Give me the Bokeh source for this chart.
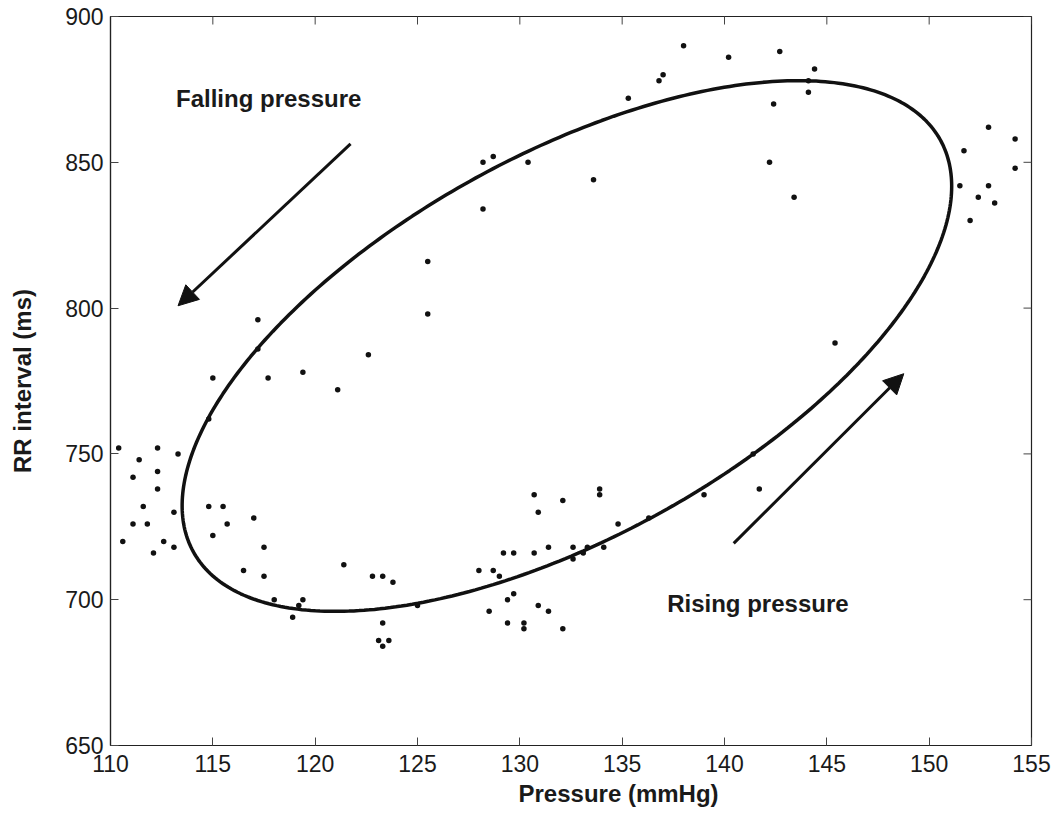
import numpy as np
from bokeh.plotting import figure
from bokeh.models import LinearAxis, Range1d, Arrow, NormalHead, FixedTicker, Label, Title
from bokeh.embed import file_html
from bokeh.resources import INLINE

# ---- data ----
pressure = [
    117.2, 117.2, 115.0, 117.7, 119.4, 122.6, 121.1, 114.8,
    110.4, 112.3, 113.3, 111.4, 112.3, 111.1, 112.3, 111.6,
    114.8, 115.5, 113.1, 111.1, 111.8, 115.7, 117.0, 115.0,
    110.6, 112.6, 113.1, 112.1, 117.5, 121.4, 116.5, 117.5,
    122.8, 123.3, 123.8, 118.0, 119.4, 119.2, 118.9, 123.3,
    123.1, 123.6, 123.3, 125.0,
    130.7, 132.1, 133.9, 133.9, 130.9, 134.8, 136.3,
    129.2, 129.7, 130.7, 131.4, 132.6, 132.6, 133.1, 133.3, 134.1,
    128.0, 128.7, 129.0, 129.7, 129.4, 128.5, 130.9, 131.4,
    129.4, 130.2, 130.2, 132.1,
    128.2, 128.7, 130.4, 133.6, 128.2, 135.3, 136.8, 137.0, 138.0, 140.2,
    125.5, 125.5,
    142.7, 144.4, 144.1, 144.1, 142.4, 142.2, 143.4,
    152.9, 154.2, 151.7, 154.2, 151.5, 152.9, 152.4, 153.2, 152.0, 145.4,
    139.0, 141.7, 141.4,
]
rr_interval = [
    796, 786, 776, 776, 778, 784, 772, 762,
    752, 752, 750, 748, 744, 742, 738, 732,
    732, 732, 730, 726, 726, 726, 728, 722,
    720, 720, 718, 716, 718, 712, 710, 708,
    708, 708, 706, 700, 700, 698, 694, 692,
    686, 686, 684, 698,
    736, 734, 738, 736, 730, 726, 728,
    716, 716, 716, 718, 718, 714, 716, 718, 718,
    710, 710, 708, 702, 700, 696, 698, 696,
    692, 692, 690, 690,
    850, 852, 850, 844, 834, 872, 878, 880, 890, 886,
    816, 798,
    888, 882, 878, 874, 870, 850, 838,
    862, 858, 854, 848, 842, 842, 838, 836, 830, 788,
    736, 738, 750,
]

# fitted loop (ellipse) parameters
loop_center_x = 132.3
loop_center_y = 787.0
loop_amp_x = 18.8
loop_amp_y = 91.0
loop_phase = 0.925

# annotation arrows: (x_start, y_start, x_end, y_end)
falling_arrow = (121.73, 856.3, 113.3, 800.8)
rising_arrow = (140.45, 719.3, 148.76, 777.5)
falling_label = ("Falling pressure", 113.2, 872.0)
rising_label = ("Rising pressure", 137.2, 698.7)
x_title = "Pressure (mmHg)"
y_title = "RR interval (ms)"

x_ticks = [110, 115, 120, 125, 130, 135, 140, 145, 150, 155]
y_ticks = [650, 700, 750, 800, 850, 900]

FONT = "Liberation Sans"
INK = "#1a1a1a"

p = figure(width=1056, height=815, output_backend="svg", toolbar_location=None,
           x_range=Range1d(110, 155), y_range=Range1d(650, 900),
           min_border_left=110, min_border_right=25, min_border_top=16,
           min_border_bottom=70, x_axis_location=None, y_axis_location=None)
p.grid.visible = False
p.outline_line_color = "#222222"
p.outline_line_width = 1.2
p.background_fill_color = "white"
p.border_fill_color = "white"


def make_axis(ticks, label=None):
    ax = LinearAxis(ticker=FixedTicker(ticks=ticks))
    ax.minor_tick_line_color = None
    ax.major_tick_in = 8
    ax.major_tick_out = 0
    ax.major_tick_line_color = "#444444"
    ax.major_tick_line_width = 1
    ax.axis_line_color = "#222222"
    ax.axis_line_width = 1.2
    ax.major_label_text_font = FONT
    ax.major_label_text_font_size = "23px"
    ax.major_label_text_color = INK
    if label:
        ax.axis_label = label
        ax.axis_label_text_font = FONT
        ax.axis_label_text_font_size = "24px"
        ax.axis_label_text_font_style = "bold"
        ax.axis_label_text_color = INK
    return ax


xb = make_axis(x_ticks)
yl = make_axis(y_ticks, y_title)
xb.major_label_standoff = 9
yl.major_label_standoff = 7
yl.axis_label_standoff = 26
p.add_layout(xb, "below")
p.add_layout(yl, "left")

# x-axis title, placed right of centre as in the reference
p.add_layout(Title(text=x_title, align="left", offset=408, standoff=6,
                   text_font=FONT, text_font_size="24px", text_font_style="bold",
                   text_color=INK), "below")

# inward tick marks on the top and right edges of the box
p.scatter(x_ticks, [y_ticks[-1]] * len(x_ticks), marker="dash", angle=np.pi / 2,
          size=16, line_color="#444444", line_width=1)
p.scatter([x_ticks[-1]] * len(y_ticks), y_ticks, marker="dash",
          size=16, line_color="#444444", line_width=1)

# ellipse loop
t = np.linspace(0, 2 * np.pi, 400)
ex = loop_center_x + loop_amp_x * np.cos(t)
ey = loop_center_y + loop_amp_y * np.cos(t - loop_phase)
p.line(ex, ey, line_color="#111111", line_width=3.5)

# data points
p.scatter(pressure, rr_interval, size=5.5, fill_color="#111111", line_color=None)

# arrows
for (x0, y0, x1, y1) in (falling_arrow, rising_arrow):
    p.add_layout(Arrow(x_start=x0, y_start=y0, x_end=x1, y_end=y1,
                       line_color="#111111", line_width=3,
                       end=NormalHead(size=20, fill_color="#111111", line_color="#111111")))

for (txt, lx, ly) in (falling_label, rising_label):
    p.add_layout(Label(x=lx, y=ly, text=txt, text_font=FONT, text_font_size="24px",
                       text_font_style="bold", text_color=INK,
                       text_baseline="middle", text_align="left"))

open("out.html", "w").write(file_html(p, INLINE))
